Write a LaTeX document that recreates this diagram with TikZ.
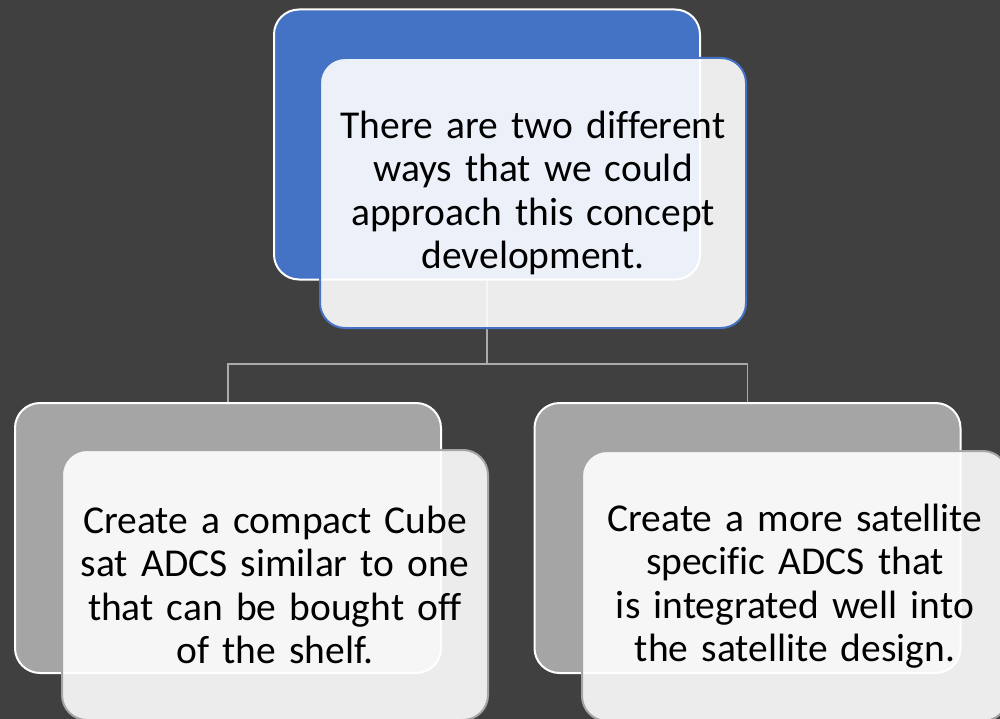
\documentclass[tikz,border=0pt]{standalone}
\usepackage{fontspec}
\setmainfont[Ligatures=NoCommon]{Carlito}
\usetikzlibrary{positioning}
\definecolor{bgdark}{HTML}{404040}
\definecolor{accblue}{HTML}{4472C4}
\definecolor{accgray}{HTML}{A5A5A5}
\definecolor{linegray}{HTML}{ABABAB}
\newcommand{\myboxfont}{\fontsize{39.5pt}{43.5pt}\selectfont\fontdimen2\font=0.13em\relax}
\pgfdeclarelayer{bglayer}
\pgfdeclarelayer{edgelayer}
\pgfsetlayers{bglayer,edgelayer,main}
\tikzset{
  backbox/.style={draw=white, line width=2pt, rounded corners=25pt, minimum width=426pt, minimum height=270pt, inner sep=0pt},
  frontbox/.style={line width=2pt, rounded corners=25pt, minimum width=426pt, minimum height=270pt, inner sep=0pt,
    fill=white, fill opacity=0.9, text opacity=1, align=center, text width=416pt,
    font=\myboxfont},
  conn/.style={draw=linegray, line width=1.5pt}
}
\begin{document}
\begin{tikzpicture}[x=1pt,y=-1pt]
\useasboundingbox (0,0) rectangle (1000,719);
\begin{pgfonlayer}{bglayer}
\fill[bgdark] (0,0) rectangle (1000,719);
\end{pgfonlayer}
\node[backbox, fill=accblue] (topback) at (487,144.5) {};
\node[frontbox, draw=accblue] (topfront) at (533,193) {There are two different\\ways that we could\\approach this concept\\development.};
\node[backbox, fill=accgray] (leftback) at (228,538) {};
\node[frontbox, draw=accgray] (leftfront) at (275,585) {Create a compact Cube\\sat ADCS similar to one\\that can be bought off\\of the shelf.};
\node[backbox, fill=accgray] (rightback) at (747.5,538) {};
\node[frontbox, draw=accgray] (rightfront) at (795,586) {Create a more satellite\\specific ADCS that\\is integrated well into\\the satellite design.};
\begin{pgfonlayer}{edgelayer}
\coordinate (split) at (487,364);
\draw[conn] (topback.south) -- (split) -| (leftback.north);
\draw[conn] (split) -| (rightback.north);
\end{pgfonlayer}
\end{tikzpicture}
\end{document}
